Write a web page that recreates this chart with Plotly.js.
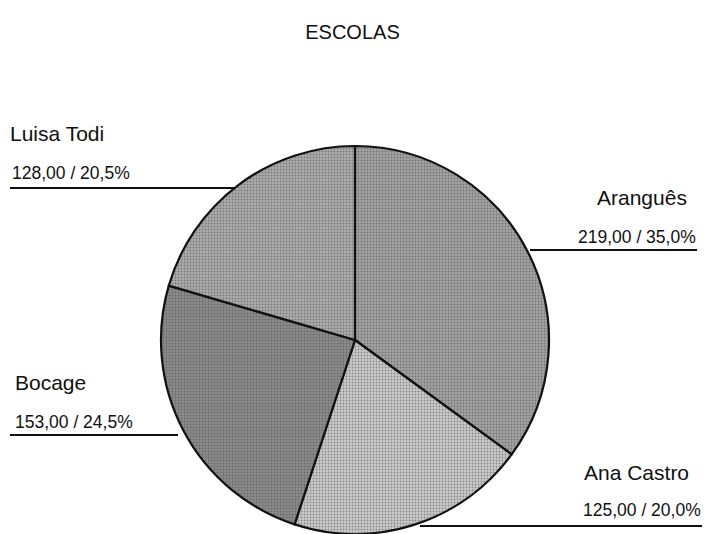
<!DOCTYPE html>
<html>
<head>
<meta charset="utf-8">
<script src="https://cdn.plot.ly/plotly-3.0.1.min.js"></script>
<style>html,body{margin:0;padding:0;background:#fff;}#chart{width:705px;height:534px;}</style>
</head>
<body>
<div id="chart"></div>
<script>
var schools = ["Aranguês", "Ana Castro", "Bocage", "Luisa Todi"];
var values = [219, 125, 153, 128];
var percentLabels = ["35,0%", "20,0%", "24,5%", "20,5%"];
var sliceColors = ["#a4a4a4", "#cbcbcb", "#8c8c8c", "#adadad"];

var W = 705, H = 534;
function px(x) { return x / W; }
function py(y) { return 1 - y / H; }

// label placement (pixels): name center, value center, leader line [x0, x1, y]
var labelPos = [
  {anchor: "right", x: 689, vx: 698, ny: 197, vy: 237, line: [530, 697, 250]},
  {anchor: "right", x: 691, vx: 703, ny: 472, vy: 510, line: [420, 702, 526]},
  {anchor: "left",  x: 13,  vx: 13,  ny: 382, vy: 422, line: [10, 178, 435]},
  {anchor: "left",  x: 8,   vx: 10,  ny: 133, vy: 173, line: [10, 235, 188]}
];

function fmt(v) { return v.toFixed(2).replace(".", ","); }

var FONT = "Liberation Sans, Arial, sans-serif";
var annotations = [];
var shapes = [];
schools.forEach(function (s, i) {
  var p = labelPos[i];
  annotations.push({
    xref: "paper", yref: "paper", x: px(p.x), y: py(p.ny),
    xanchor: p.anchor, yanchor: "middle", showarrow: false,
    text: s, font: {family: FONT, size: 21, color: "#111"}
  });
  annotations.push({
    xref: "paper", yref: "paper", x: px(p.vx), y: py(p.vy),
    xanchor: p.anchor, yanchor: "middle", showarrow: false,
    text: fmt(values[i]) + " / " + percentLabels[i],
    font: {family: FONT, size: 17.5, color: "#111"}
  });
  shapes.push({
    type: "line", xref: "paper", yref: "paper",
    x0: px(p.line[0]), x1: px(p.line[1]), y0: py(p.line[2]), y1: py(p.line[2]),
    line: {color: "#111", width: 2}
  });
});

var cx = 355, cy = 340, r = 194;
var trace = {
  type: "pie",
  labels: schools,
  values: values,
  sort: false,
  direction: "clockwise",
  rotation: 0,
  textinfo: "none",
  hoverinfo: "label+value+percent",
  showlegend: false,
  domain: {x: [px(cx - r), px(cx + r)], y: [py(cy + r), py(cy - r)]},
  marker: {
    colors: sliceColors,
    line: {color: "#111", width: 2.2},
    pattern: {shape: ".", size: 3, solidity: 0.3, fgcolor: "#444", fillmode: "overlay"}
  }
};

var layout = {
  width: W, height: H,
  margin: {l: 0, r: 0, t: 0, b: 0},
  paper_bgcolor: "#fff",
  title: {text: "ESCOLAS", x: 0.5, xanchor: "center", y: py(32), yanchor: "middle",
          font: {family: FONT, size: 20, color: "#111"}},
  annotations: annotations,
  shapes: shapes
};

Plotly.newPlot("chart", [trace], layout, {displayModeBar: false, staticPlot: true});
</script>
</body>
</html>
